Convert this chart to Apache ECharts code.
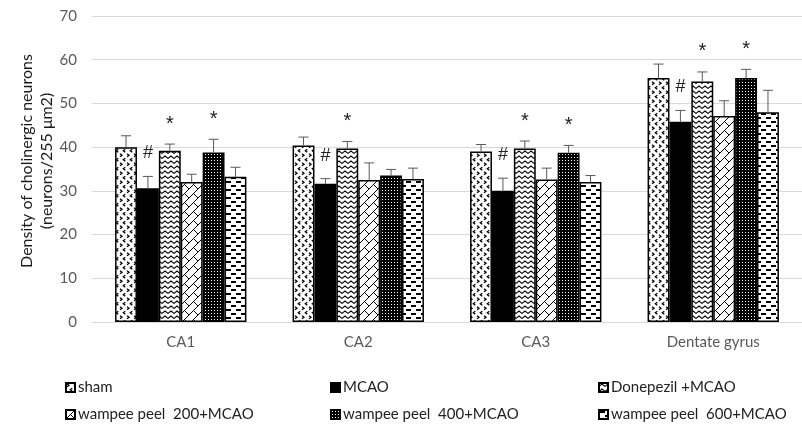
<!DOCTYPE html>
<html><head><meta charset="utf-8">
<script src="https://cdn.jsdelivr.net/npm/echarts@6/dist/echarts.min.js"></script>
<style>html,body{margin:0;padding:0;background:#fff}#c{width:802px;height:427px}</style>
</head><body><div id="c"></div>
<script>
const categories = ['CA1', 'CA2', 'CA3', 'Dentate gyrus'];
const seriesNames = ['sham', 'MCAO', 'Donepezil +MCAO', 'wampee peel  200+MCAO', 'wampee peel  400+MCAO', 'wampee peel  600+MCAO'];
const shamMean = [40.0, 40.4, 39.0, 55.8];
const shamErr = [2.6, 1.9, 1.6, 3.2];
const mcaoMean = [30.6, 31.6, 30.0, 45.8];
const mcaoErr = [2.7, 1.2, 2.9, 2.6];
const donepezilMean = [39.2, 39.7, 39.7, 55.0];
const donepezilErr = [1.5, 1.6, 1.7, 2.2];
const wp200Mean = [32.0, 32.5, 32.6, 47.1];
const wp200Err = [1.8, 3.9, 2.6, 3.5];
const wp400Mean = [38.8, 33.5, 38.7, 55.8];
const wp400Err = [3.0, 1.4, 1.7, 2.0];
const wp600Mean = [33.2, 32.7, 32.0, 48.0];
const wp600Err = [2.2, 2.5, 1.5, 5.0];
const shamMarks = ['', '', '', ''];
const mcaoMarks = ['#', '#', '#', '#'];
const donepezilMarks = ['*', '*', '*', '*'];
const wp200Marks = ['', '', '', ''];
const wp400Marks = ['*', '', '*', '*'];
const wp600Marks = ['', '', '', ''];
const yMin = 0, yMax = 70, yStep = 10;

const means = [shamMean, mcaoMean, donepezilMean, wp200Mean, wp400Mean, wp600Mean];
const errs = [shamErr, mcaoErr, donepezilErr, wp200Err, wp400Err, wp600Err];
const marks = [shamMarks, mcaoMarks, donepezilMarks, wp200Marks, wp400Marks, wp600Marks];

function tile(w, h, draw) {
  const c = document.createElement('canvas');
  c.width = w; c.height = h;
  const g = c.getContext('2d');
  g.fillStyle = '#fff'; g.fillRect(0, 0, w, h);
  g.strokeStyle = '#000'; g.fillStyle = '#000'; g.lineWidth = 1;
  draw(g);
  return { image: c, repeat: 'repeat' };
}
const patterns = [
  tile(7, 9, g => {
    g.lineWidth = 1.3;
    g.beginPath(); g.moveTo(1, 0.8); g.lineTo(3, 2.3); g.lineTo(1, 3.8); g.stroke();
    g.beginPath(); g.moveTo(6.3, 5.3); g.lineTo(4.3, 6.8); g.lineTo(6.3, 8.3); g.stroke();
  }),
  '#000',
  tile(6, 5, g => {
    g.lineWidth = 1.2;
    g.beginPath(); g.moveTo(-1.5, 4.6); g.lineTo(0, 3.4); g.lineTo(3, 1); g.lineTo(6, 3.4); g.lineTo(7.5, 4.6); g.stroke();
  }),
  tile(9, 9, g => {
    g.beginPath(); g.moveTo(-1, 10); g.lineTo(10, -1); g.stroke();
    g.beginPath(); g.moveTo(4.5, 4.5); g.lineTo(10, 10); g.stroke();
    g.beginPath(); g.moveTo(-1, -1); g.lineTo(0, 0); g.stroke();
  }),
  tile(3, 3, g => {
    g.fillStyle = '#000'; g.fillRect(0, 0, 3, 3);
    g.fillStyle = '#fff'; g.fillRect(1, 1, 1, 1);
  }),
  tile(10, 8, g => {
    g.fillRect(1, 1, 5, 2); g.fillRect(6, 5, 4, 2); g.fillRect(0, 5, 1, 2);
  })
];

const GAP = 0.26;
const font = 'Lato';
const markFont = '"Liberation Sans"';

const barSeries = seriesNames.map((name, i) => ({
  name, type: 'bar', data: means[i],
  barGap: '0%', barCategoryGap: (GAP * 100) + '%',
  itemStyle: { color: patterns[i], borderColor: '#000', borderWidth: 1.5 },
  emphasis: { disabled: true }, z: 2
}));

const errData = [];
const errMarks = [];
means.forEach((m, si) => m.forEach((v, ci) => {
  errData.push([ci, v, errs[si][ci], si]);
  errMarks.push(marks[si][ci]);
}));

const errSeries = {
  type: 'custom', name: 'err', data: errData, z: 5, silent: true,
  encode: { x: 0, y: 1 },
  renderItem: (params, api) => {
    const ci = api.value(0), v = api.value(1), e = api.value(2), si = api.value(3);
    const band = api.size([1, 0])[0];
    const groupW = band * (1 - GAP);
    const bw = groupW / 6;
    const cx = api.coord([ci, 0])[0];
    const x = cx - groupW / 2 + (si + 0.5) * bw;
    const yb = api.coord([ci, v])[1];
    const yt = api.coord([ci, v + e])[1];
    const st = { stroke: '#595959', lineWidth: 1 };
    const children = [
      { type: 'line', shape: { x1: x, y1: yb, x2: x, y2: yt }, style: st },
      { type: 'line', shape: { x1: x - 5, y1: yt, x2: x + 5, y2: yt }, style: st }
    ];
    const mk = errMarks[params.dataIndex];
    if (mk) {
      const isStar = mk === '*';
      children.push({ type: 'text', style: {
        text: mk, x: x, y: isStar ? yt - 20 : yt - 23,
        textAlign: 'center', textVerticalAlign: 'middle',
        font: (isStar ? '20px ' : '18px ') + markFont, fill: '#222'
      }});
    }
    return { type: 'group', children };
  }
};

const legendPos = [[65, 380], [330, 380], [598, 380], [65, 407], [330, 407], [598, 407]];
const legends = seriesNames.map((n, i) => ({
  data: [n], left: legendPos[i][0], top: legendPos[i][1], padding: 0,
  itemWidth: 9, itemHeight: 9, itemGap: 0, icon: 'rect', selectedMode: false,
  textStyle: { fontFamily: font, fontSize: 15, color: '#222', padding: [0, 0, 0, -2] }
}));

const chart = echarts.init(document.getElementById('c'), null, { renderer: 'canvas' });
chart.setOption({
  animation: false,
  grid: { left: 92, top: 16, width: 722, height: 306 },
  legend: legends,
  graphic: [{
    type: 'text', x: 37, y: 161, rotation: Math.PI / 2,
    style: { text: 'Density of cholinergic neurons\n(neurons/255 μm2)', textAlign: 'center', textVerticalAlign: 'middle',
      font: '16px ' + font, fill: '#1a1a1a', lineHeight: 20 }
  }],
  xAxis: {
    type: 'category', data: categories,
    axisLine: { lineStyle: { color: '#d9d9d9', width: 1 } }, axisTick: { show: false },
    axisLabel: { fontFamily: font, fontSize: 15, color: '#595959', margin: 13 }
  },
  yAxis: {
    type: 'value', min: yMin, max: yMax, interval: yStep,
    axisLine: { show: false }, axisTick: { show: false },
    splitLine: { lineStyle: { color: '#d9d9d9', width: 1 } },
    axisLabel: { fontFamily: font, fontSize: 15, color: '#595959', margin: 15 }
  },
  series: [...barSeries, errSeries]
});
</script></body></html>
